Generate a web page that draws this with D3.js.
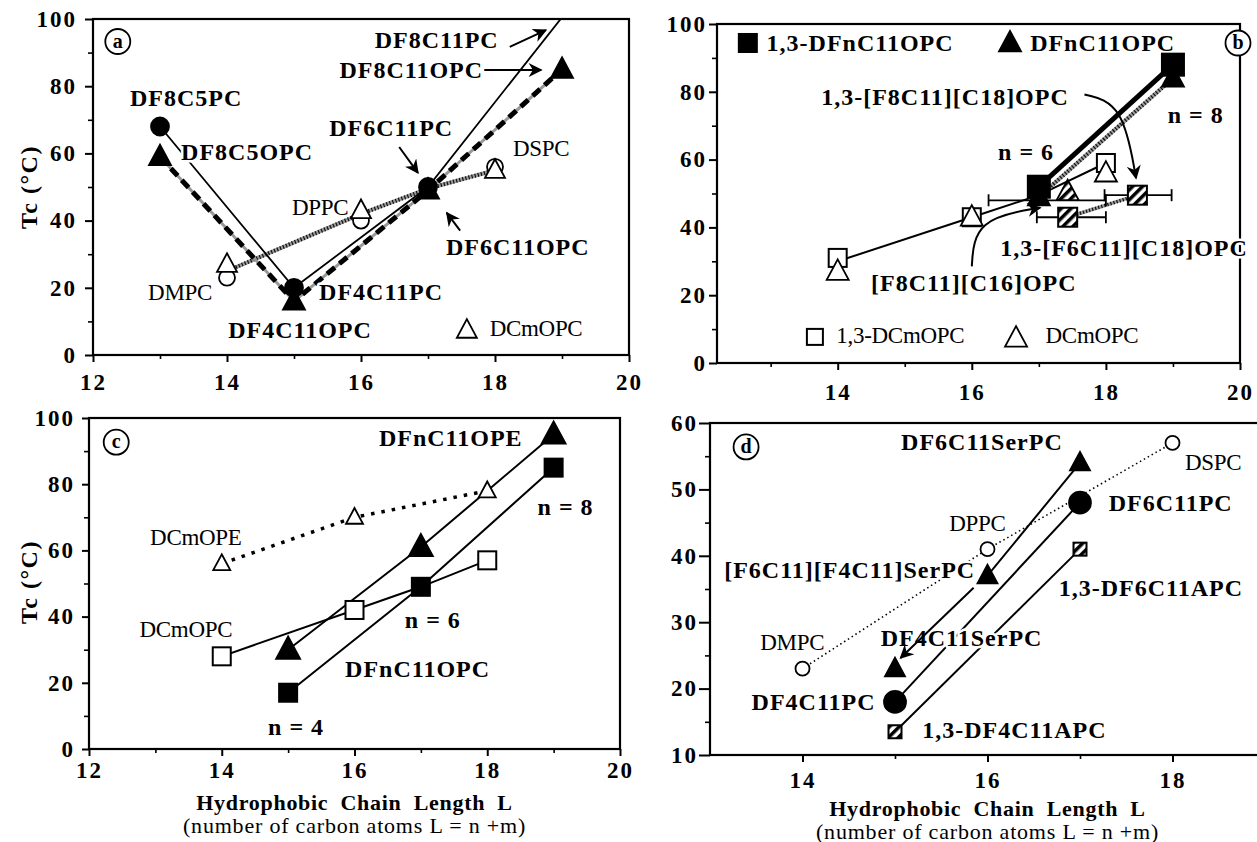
<!DOCTYPE html>
<html><head><meta charset="utf-8">
<script src="https://cdn.jsdelivr.net/npm/d3@7"></script>
<style>
body{margin:0;background:#fff;}
svg{display:block;font-family:"Liberation Serif","Times New Roman",serif;}
svg text{font-family:"Liberation Serif","Times New Roman",serif;}
.lb{font-weight:bold;font-size:24px;letter-spacing:1px;}
.lr{font-size:23px;letter-spacing:-0.3px;}
.halo{paint-order:stroke;stroke:#fff;stroke-width:5px;stroke-linejoin:round;}
</style></head><body>
<svg id="c" width="1257" height="842"></svg>
<script>
// ---------------- DATA ----------------
// Panel a
const aX = [13, 15, 17, 19];
const aPC = [68, 20, 50, 100.5];          // DF8C5PC, DF4C11PC, DF6C11PC, DF8C11PC
const aOPC = [59, 16, 49, 85];            // DF8C5OPC, DF4C11OPC, DF6C11OPC, DF8C11OPC
const aRefX = [14, 16, 18];
const aDCmPC = [23, 40, 56];              // DMPC, DPPC, DSPC
const aDCmOPC = [27, 43, 55];
const aRefLineX = [14, 16, 17, 18];
const aRefLineY = [25, 42, 49.5, 55];
// Panel b
const bX = [17, 19];
const bSq = [52, 88];                     // 1,3-DFnC11OPC
const bTri = [49, 84];                    // DFnC11OPC
const bRefX = [14, 16, 18];
const bDCmSq = [31, 43, 59];              // 1,3-DCmOPC
const bDCmTri = [27, 43, 56];             // DCmOPC
const bLineX = [14, 16, 17, 18];
const bLineY = [30, 43, 49.5, 59];
const bMixX = [17.43, 17.43, 18.47];      // mixed-chain compounds
const bMixY = [50.5, 43, 49.5];
const bMixShape = ["tri", "sq", "sq"];
const bErrLo = [16.25, 16.97, 17.98];
const bErrHi = [18.0, 18.0, 18.98];
const bErrY = [48, 43, 49.5];
// Panel c
const cX = [15, 17, 19];
const cOPE = [30, 61, 95];                // DFnC11OPE
const cOPC = [17, 49, 85];                // DFnC11OPC
const cRefX = [14, 16, 18];
const cDCmOPC = [28, 42, 57];
const cDCmOPE = [56, 70, 78];
const cLineX = [14, 16, 17, 18];
const cLineY = [28, 42, 49, 57];
// Panel d
const dRefX = [14, 16, 18];
const dDCmPC = [23, 41, 57];              // DMPC, DPPC, DSPC
const dSerX = [15, 16, 17];
const dSer = [23, 37, 54];                // DF4C11SerPC, [F6C11][F4C11]SerPC, DF6C11SerPC
const dX = [15, 17];
const dPC = [18, 48];                     // DF4C11PC, DF6C11PC
const dAPC = [13.5, 41];                  // 1,3-DF4C11APC, 1,3-DF6C11APC
// tick values
const ticksX = [12, 14, 16, 18, 20];
const minorX = [13, 15, 17, 19];
const ticksY100 = [0, 20, 40, 60, 80, 100];
const minorY100 = [10, 30, 50, 70, 90];
const ticksYd = [10, 20, 30, 40, 50, 60];
const minorYd = [15, 25, 35, 45, 55];

// ---------------- SETUP ----------------
const svg = d3.select('#c');
const defs = svg.append('defs');
defs.append('marker').attr('id', 'arr').attr('viewBox', '0 0 10 10')
  .attr('refX', 9).attr('refY', 5).attr('markerWidth', 16).attr('markerHeight', 14)
  .attr('markerUnits', 'userSpaceOnUse').attr('orient', 'auto')
  .append('path').attr('d', 'M0,0 L10,5 L0,10 L3,5 Z').attr('fill', '#000');
const hp = defs.append('pattern').attr('id', 'hatch').attr('patternUnits', 'userSpaceOnUse')
  .attr('width', 7).attr('height', 7).attr('patternTransform', 'rotate(45)');
hp.append('rect').attr('width', 7).attr('height', 7).attr('fill', '#fff');
hp.append('rect').attr('width', 3.5).attr('height', 7).attr('fill', '#000');

function styleTicks(sel) {
  sel.attr('font-family', 'Liberation Serif, serif').attr('font-size', '23px')
    .attr('font-weight', 'bold').attr('letter-spacing', '2px').attr('fill', '#000')
    .style('font-family', '"Liberation Serif", serif').style('font-size', '23px').style('font-weight', 'bold');
}

function panel(o) {
  const x = d3.scaleLinear().domain(o.xd).range([o.l, o.r]);
  const y = d3.scaleLinear().domain(o.yd).range([o.b, o.t]);
  const g = svg.append('g');
  const clipId = 'clip' + o.id;
  defs.append('clipPath').attr('id', clipId).append('rect')
    .attr('x', o.l).attr('y', o.t).attr('width', o.r - o.l).attr('height', o.b - o.t);
  g.append('rect').attr('x', o.l).attr('y', o.t).attr('width', o.r - o.l).attr('height', o.b - o.t)
    .attr('fill', 'none').attr('stroke', '#000').attr('stroke-width', 2.2);
  // x axis
  const xa = g.append('g').attr('transform', `translate(0,${o.b})`)
    .call(d3.axisBottom(x).tickValues(o.xt).tickSize(7).tickFormat(d3.format('d')));
  xa.select('.domain').remove();
  xa.selectAll('line').attr('stroke-width', 2);
  styleTicks(xa.selectAll('text').attr('y', o.xo).attr('dy', '0.35em'));
  g.append('g').attr('transform', `translate(0,${o.b})`)
    .call(d3.axisBottom(x).tickValues(o.xm).tickSize(4).tickFormat(''))
    .call(s => { s.select('.domain').remove(); s.selectAll('line').attr('stroke-width', 1.6); });
  // y axis
  const ya = g.append('g').attr('transform', `translate(${o.l},0)`)
    .call(d3.axisLeft(y).tickValues(o.yt).tickSize(o.ts).tickPadding(o.yp).tickFormat(d3.format('d')));
  ya.select('.domain').remove();
  ya.selectAll('line').attr('stroke-width', 2);
  styleTicks(ya.selectAll('text'));
  g.append('g').attr('transform', `translate(${o.l},0)`)
    .call(d3.axisLeft(y).tickValues(o.ym).tickSize(5).tickFormat(''))
    .call(s => { s.select('.domain').remove(); s.selectAll('line').attr('stroke-width', 1.6); });
  const lines = g.append('g').attr('clip-path', `url(#${clipId})`);
  const labels = g.append('g');
  const marks = g.append('g');
  return { x, y, g, lines, labels, marks };
}

function path(P, xs, ys, style) {
  const ln = d3.line().x((d, i) => P.x(xs[i])).y((d, i) => P.y(ys[i]));
  const p = P.lines.append('path').attr('d', ln(xs)).attr('fill', 'none');
  Object.entries(style).forEach(([k, v]) => p.attr(k, v));
  return p;
}
function hatched(P, xs, ys, w) {
  path(P, xs, ys, { stroke: '#9a9a9a', 'stroke-width': w });
  path(P, xs, ys, { stroke: '#111', 'stroke-width': w, 'stroke-dasharray': '1.2,2' });
}
function label(P, x, y, t, cls, anchor) {
  return P.labels.append('text').attr('x', P.x(x)).attr('y', P.y(y))
    .attr('class', cls + ' halo').attr('text-anchor', anchor || 'middle')
    .attr('dominant-baseline', 'central').text(t);
}
function arrow(P, pts, curve) {
  const ln = d3.line().x(d => P.x(d[0])).y(d => P.y(d[1])).curve(curve || d3.curveLinear);
  P.labels.append('path').attr('d', ln(pts)).attr('fill', 'none').attr('stroke', '#000')
    .attr('stroke-width', 2).attr('marker-end', 'url(#arr)');
}
function circ(P, x, y, r, fill) {
  P.marks.append('circle').attr('cx', P.x(x)).attr('cy', P.y(y)).attr('r', r)
    .attr('fill', fill).attr('stroke', '#000').attr('stroke-width', 1.8);
}
function tri(P, x, y, s, fill, g) {
  const cx = P.x(x), cy = P.y(y);
  (g || P.marks).append('path').attr('d', `M${cx},${cy - s * 0.55} L${cx + s / 2},${cy + s * 0.38} L${cx - s / 2},${cy + s * 0.38} Z`)
    .attr('fill', fill).attr('stroke', '#000').attr('stroke-width', 1.8).attr('stroke-linejoin', 'miter');
}
function sq(P, x, y, s, fill, g) {
  (g || P.marks).append('rect').attr('x', P.x(x) - s / 2).attr('y', P.y(y) - s / 2)
    .attr('width', s).attr('height', s).attr('fill', fill).attr('stroke', '#000').attr('stroke-width', 2);
}
function badge(P, x, y, t) {
  P.labels.append('circle').attr('cx', P.x(x)).attr('cy', P.y(y)).attr('r', 12.5)
    .attr('fill', '#fff').attr('stroke', '#000').attr('stroke-width', 1.8);
  P.labels.append('text').attr('x', P.x(x)).attr('y', P.y(y) - 1).attr('text-anchor', 'middle')
    .attr('dominant-baseline', 'central').attr('font-weight', 'bold').attr('font-size', 20).text(t);
}
function ytitle(x, y) {
  svg.append('text').attr('transform', `translate(${x},${y}) rotate(-90)`).attr('text-anchor', 'middle')
    .attr('dominant-baseline', 'central').attr('font-weight', 'bold').attr('font-size', 24)
    .attr('letter-spacing', 1.5).text('Tc (°C)');
}
function xtitle(P) {
  const cx = (P.x.range()[0] + P.x.range()[1]) / 2;
  const xm = P.x.invert(cx);
  P.g.append('text').attr('x', P.x(xm)).attr('y', P.y.range()[0] + 53).attr('text-anchor', 'middle')
    .attr('font-weight', 'bold').attr('font-size', 22).attr('word-spacing', 6).attr('letter-spacing', 0.7)
    .attr('dominant-baseline', 'central').text('Hydrophobic Chain Length L');
  P.g.append('text').attr('x', P.x(xm)).attr('y', P.y.range()[0] + 76).attr('text-anchor', 'middle')
    .attr('font-size', 22).attr('letter-spacing', 0.8)
    .attr('dominant-baseline', 'central').text('(number of carbon atoms L = n +m)');
}

// ---------------- PANEL A ----------------
const A = panel({ id: 'a', l: 93, r: 629, t: 19, b: 355, xd: [12, 20], yd: [0, 100], xt: ticksX, xm: minorX,
  yt: ticksY100, ym: minorY100, ts: 8, yp: 8, xo: 27 });
hatched(A, aRefLineX, aRefLineY, 4);
path(A, aX, aOPC, { stroke: '#999', 'stroke-width': 3 });
path(A, aX, aOPC, { stroke: '#000', 'stroke-width': 5, 'stroke-dasharray': '10,6' });
path(A, aX, aPC, { stroke: '#000', 'stroke-width': 1.8 });
label(A, 13.39, 76.5, 'DF8C5PC', 'lb');
label(A, 14.30, 60.4, 'DF8C5OPC', 'lb');
label(A, 16.45, 67.6, 'DF6C11PC', 'lb');
label(A, 17.13, 93.8, 'DF8C11PC', 'lb');
label(A, 16.75, 84.8, 'DF8C11OPC', 'lb');
label(A, 18.34, 32.1, 'DF6C11OPC', 'lb');
label(A, 16.30, 18.8, 'DF4C11PC', 'lb');
label(A, 15.09, 7.4, 'DF4C11OPC', 'lb');
label(A, 13.30, 18.5, 'DMPC', 'lr');
label(A, 15.39, 43.8, 'DPPC', 'lr');
label(A, 18.69, 61.6, 'DSPC', 'lr');
label(A, 17.92, 7.8, 'DCmOPC', 'lr', 'start');
tri(A, 17.58, 7.4, 20, '#fff', A.labels);
badge(A, 12.37, 93.3, 'a');
arrow(A, [[18.22, 91.7], [18.76, 96.7]]);
arrow(A, [[17.84, 84.8], [18.69, 84.8]]);
arrow(A, [[16.57, 61.9], [16.85, 54.2]]);
arrow(A, [[17.48, 37.0], [17.28, 42.3]]);
aRefX.forEach((v, i) => circ(A, v, aDCmPC[i], 8, '#fff'));
aRefX.forEach((v, i) => tri(A, v, aDCmOPC[i], 20, '#fff'));
aX.forEach((v, i) => { if (aPC[i] <= 96) circ(A, v, aPC[i], 9, '#000'); });
aX.forEach((v, i) => tri(A, v, aOPC[i], 22, '#000'));
ytitle(29, 187);

// ---------------- PANEL B ----------------
const B = panel({ id: 'b', l: 717, r: 1240, t: 24, b: 363, xd: [12.2, 20], yd: [0, 100], xt: [14, 16, 18, 20], xm: minorX,
  yt: ticksY100, ym: minorY100, ts: 8, yp: 2, xo: 29 });
path(B, bLineX, bLineY, { stroke: '#000', 'stroke-width': 2 });
hatched(B, [bMixX[1], bMixX[2]], [bMixY[1], bMixY[2]], 3.5);
hatched(B, bX, bTri, 4);
path(B, bX, bSq, { stroke: '#000', 'stroke-width': 5 });
bMixX.forEach((v, i) => {
  const y0 = B.y(bErrY[i]);
  B.lines.append('line').attr('x1', B.x(bErrLo[i])).attr('x2', B.x(bErrHi[i])).attr('y1', y0).attr('y2', y0)
    .attr('stroke', '#000').attr('stroke-width', 1.8);
  [bErrLo[i], bErrHi[i]].forEach(e => B.lines.append('line').attr('x1', B.x(e)).attr('x2', B.x(e))
    .attr('y1', y0 - 6).attr('y2', y0 + 6).attr('stroke', '#000').attr('stroke-width', 1.8));
});
sq(B, 12.66, 94.4, 18, '#000', B.labels);
label(B, 12.94, 94.4, '1,3-DFnC11OPC', 'lb', 'start');
tri(B, 16.57, 94.4, 22, '#000', B.labels);
label(B, 16.87, 94.4, 'DFnC11OPC', 'lb', 'start');
badge(B, 19.97, 94.4, 'b');
label(B, 15.6, 78.4, '1,3-[F8C11][C18]OPC', 'lb');
label(B, 19.34, 73.2, 'n = 8', 'lb');
label(B, 16.81, 62.2, 'n = 6', 'lb');
label(B, 18.27, 34.0, '1,3-[F6C11][C18]OPC', 'lb');
label(B, 16.03, 23.6, '[F8C11][C16]OPC', 'lb');
sq(B, 13.66, 7.7, 16, '#fff', B.labels);
label(B, 13.98, 8.0, '1,3-DCmOPC', 'lr', 'start');
tri(B, 16.66, 7.3, 22, '#fff', B.labels);
label(B, 17.1, 8.0, 'DCmOPC', 'lr', 'start');
arrow(B, [[17.68, 79.2], [18.25, 76.5], [18.45, 54.5]], d3.curveBasis);
arrow(B, [[16.0, 28.5], [16.05, 42.5], [17.02, 45.8]], d3.curveBasis);
bRefX.forEach((v, i) => sq(B, v, bDCmSq[i], 18, '#fff'));
bRefX.forEach((v, i) => tri(B, v, bDCmTri[i], 22, '#fff'));
bX.forEach((v, i) => sq(B, v, bSq[i], 22, '#000'));
bX.forEach((v, i) => tri(B, v, bTri[i], 22, '#000'));
bMixX.forEach((v, i) => bMixShape[i] === 'tri' ? tri(B, v, bMixY[i], 22, 'url(#hatch)') : sq(B, v, bMixY[i], 19, 'url(#hatch)'));

// ---------------- PANEL C ----------------
const C = panel({ id: 'c', l: 89, r: 620, t: 418, b: 749, xd: [12, 20], yd: [0, 100], xt: ticksX, xm: minorX,
  yt: ticksY100, ym: minorY100, ts: 7, yp: 7, xo: 21 });
path(C, cRefX, cDCmOPE, { stroke: '#000', 'stroke-width': 3.5, 'stroke-dasharray': '3.5,7' });
path(C, cLineX, cLineY, { stroke: '#000', 'stroke-width': 2 });
path(C, cX, cOPE, { stroke: '#000', 'stroke-width': 2 });
path(C, cX, cOPC, { stroke: '#000', 'stroke-width': 2 });
badge(C, 12.41, 92.7, 'c');
label(C, 17.45, 94.0, 'DFnC11OPE', 'lb');
label(C, 13.61, 64.0, 'DCmOPE', 'lr');
label(C, 13.46, 36.0, 'DCmOPC', 'lr');
label(C, 19.18, 73.1, 'n = 8', 'lb');
label(C, 17.18, 39.0, 'n = 6', 'lb');
label(C, 16.95, 24.2, 'DFnC11OPC', 'lb');
label(C, 15.12, 6.6, 'n = 4', 'lb');
cRefX.forEach((v, i) => sq(C, v, cDCmOPC[i], 18, '#fff'));
cRefX.forEach((v, i) => tri(C, v, cDCmOPE[i], 17, '#fff'));
cX.forEach((v, i) => tri(C, v, cOPE[i], 24, '#000'));
cX.forEach((v, i) => sq(C, v, cOPC[i], 18, '#000'));
ytitle(29, 582);
xtitle(C);

// ---------------- PANEL D ----------------
const D = panel({ id: 'd', l: 710, r: 1265, t: 423, b: 755, xd: [13, 19], yd: [10, 60], xt: [14, 16, 18], xm: [15, 17, 19],
  yt: ticksYd, ym: minorYd, ts: 11, yp: 1, xo: 25 });
path(D, dRefX, dDCmPC, { stroke: '#000', 'stroke-width': 1.6, 'stroke-dasharray': '1.5,3' });
path(D, dX, dPC, { stroke: '#000', 'stroke-width': 2 });
path(D, dX, dAPC, { stroke: '#000', 'stroke-width': 2 });
path(D, [dSerX[2], dSerX[1]], [dSer[2], dSer[1]], { stroke: '#000', 'stroke-width': 2 });
badge(D, 13.39, 56.4, 'd');
label(D, 15.94, 57.1, 'DF6C11SerPC', 'lb');
label(D, 18.44, 54.1, 'DSPC', 'lr');
label(D, 17.98, 48.0, 'DF6C11PC', 'lb');
label(D, 15.89, 44.9, 'DPPC', 'lr');
label(D, 14.51, 37.9, '[F6C11][F4C11]SerPC', 'lb');
label(D, 16.77, 35.2, '1,3-DF6C11APC', 'lb', 'start');
label(D, 13.89, 27.0, 'DMPC', 'lr');
label(D, 15.72, 27.6, 'DF4C11SerPC', 'lb');
label(D, 14.79, 18.0, 'DF4C11PC', 'lb', 'end');
label(D, 16.29, 13.8, '1,3-DF4C11APC', 'lb');
arrow(D, [[15.85, 35.2], [15.06, 24.6]]);
dRefX.forEach((v, i) => circ(D, v, dDCmPC[i], 7, '#fff'));
dSerX.forEach((v, i) => tri(D, v, dSer[i], 20, '#000'));
dX.forEach((v, i) => circ(D, v, dPC[i], 11, '#000'));
dX.forEach((v, i) => sq(D, v, dAPC[i], 13, 'url(#hatch)'));
xtitle(D);
</script>
</body></html>
